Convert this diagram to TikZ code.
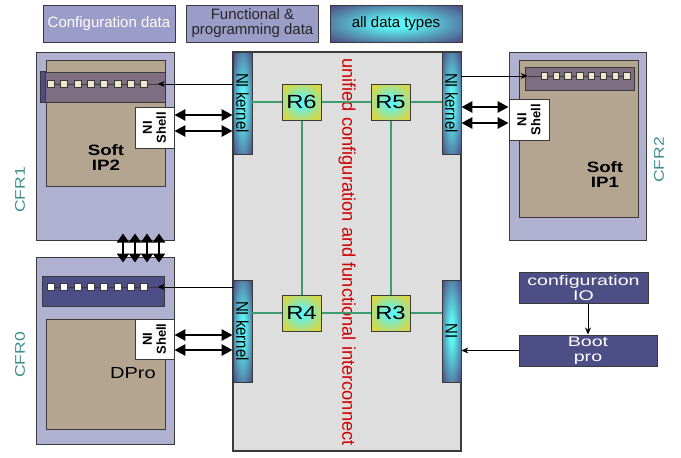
\documentclass[tikz,border=0pt]{standalone}
\usepackage{fontspec}
\setmainfont{Liberation Sans}
\newfontfamily\widesf[FakeStretch=1.25]{Liberation Sans}
\newfontfamily\widersf[FakeStretch=1.4]{Liberation Sans}
\newfontfamily\narrowsf[FakeStretch=0.88]{Liberation Sans}
\usetikzlibrary{arrows.meta}

\definecolor{edge}{HTML}{3A3A3A}
\definecolor{navy}{HTML}{4E4E86}
\definecolor{glowcyan}{HTML}{5CF4F4}
\definecolor{routeryellow}{HTML}{D6D646}
\definecolor{lavtop}{HTML}{9C9CC8}
\definecolor{cfrfill}{HTML}{B0B0D0}
\definecolor{tan}{HTML}{B4A591}
\definecolor{stripmauve}{HTML}{7D6E82}
\definecolor{cream}{HTML}{F0E6D0}
\definecolor{panel}{HTML}{DEDEDE}
\definecolor{linkgreen}{HTML}{3C9C70}
\definecolor{ired}{HTML}{D00000}
\definecolor{teal}{HTML}{3E8E8E}

% glow shadings: light centre fading to the edge colour
\pgfdeclareradialshading{niglow}{\pgfpointorigin}{color(0bp)=(glowcyan); color(6bp)=(glowcyan); color(34bp)=(navy); color(50bp)=(navy)}
\pgfdeclareradialshading{routerglow}{\pgfpointorigin}{color(0bp)=(glowcyan); color(5bp)=(glowcyan); color(29bp)=(routeryellow); color(50bp)=(routeryellow)}

\tikzset{
  topbox/.style={draw=edge, line width=1pt, fill=lavtop, minimum width=132, minimum height=37,
    inner sep=0, align=center, font=\fontsize{15}{15}\selectfont},
  cfrbox/.style={draw=edge, line width=1pt, fill=cfrfill, inner sep=0},
  ipbox/.style={draw=edge, line width=1pt, fill=tan, inner sep=0},
  stripbox/.style={draw=edge, line width=0.8pt, inner sep=0},
  sqr/.style={draw=edge, line width=0.6pt, minimum size=7, inner sep=0},
  chain/.style={draw=edge, line width=0.6pt},
  nibar/.style={draw=edge, line width=0.8pt, shade, shading=niglow, minimum width=19,
    minimum height=102, inner sep=0},
  nitext/.style={rotate=-90, font=\narrowsf\fontsize{17}{17}\selectfont, text=black},
  router/.style={draw=edge, line width=1pt, shade, shading=routerglow, minimum width=39,
    minimum height=36, inner sep=0, font=\widesf\fontsize{19}{19}\selectfont},
  link/.style={draw=linkgreen, line width=2pt},
  shellbox/.style={draw=edge, line width=0.8pt, fill=white, inner sep=0},
  shelltext/.style={rotate=90, align=center, font=\bfseries\fontsize{13}{14}\selectfont},
  dbl/.style={line width=2.6pt, {Triangle[length=11pt,width=11pt]}-{Triangle[length=11pt,width=11pt]}},
  vdbl/.style={line width=2.4pt, {Triangle[length=9pt,width=12pt]}-{Triangle[length=9pt,width=12pt]}},
  thinarrow/.style={draw=black, line width=0.8pt, -{Stealth[length=7pt,width=6pt]}},
  iplabel/.style={align=center, font=\widesf\bfseries\fontsize{15}{15}\selectfont},
  navybox/.style={draw=edge, line width=1pt, fill=navy, text=white, inner sep=0, align=center,
    font=\widersf\fontsize{14}{15}\selectfont},
  cfrlabel/.style={rotate=90, text=teal, font=\widesf\fontsize{14}{14}\selectfont},
}

\begin{document}
\begin{tikzpicture}[x=1pt,y=-1pt]
\useasboundingbox (0,0) rectangle (681,458);
\fill[white] (0,0) rectangle (681,458);

% legend boxes
\node[topbox, text=white] (cfgdata) at (109,23.5) {Configuration data};
\node[topbox, text=black!85] (fundata) at (252.5,23.5) {Functional \&\\programming data};
\node[topbox, shade, shading=niglow, text=black] (alldata) at (396,23.5) {all data types};

% interconnect panel
\node[draw=edge, line width=1.2pt, fill=panel, minimum width=228, minimum height=399, inner sep=0] (noc) at (347,251.5) {};
\node[text=ired, rotate=-90, font=\fontsize{18.3}{18}\selectfont] (noclbl) at (347,252) {unified configuration and functional interconnect};

% network interface bars
\node[nibar] (kL1) at (242.5,103) {};
\node[nibar] (kL0) at (242.5,331) {};
\node[nibar] (kR2) at (451.5,103) {};
\node[nibar] (kR3) at (451.5,331) {};
\node[nitext] (kL1t) at (kL1) {NI kernel};
\node[nitext] (kL0t) at (kL0) {NI kernel};
\node[nitext] (kR2t) at (kR2) {NI kernel};
\node[nitext] (kR3t) at (kR3) {NI};

% routers
\node[router] (R6) at (301.5,102) {R6};
\node[router] (R5) at (390.5,102) {R5};
\node[router] (R4) at (301.5,313) {R4};
\node[router] (R3) at (390.5,313) {R3};
\draw[link] (kL1.east |- R6) -- (R6);
\draw[link] (R6) -- (R5);
\draw[link] (R5) -- (kR2.west |- R5);
\draw[link] (kL0.east |- R4) -- (R4);
\draw[link] (R4) -- (R3);
\draw[link] (R3) -- (kR3.west |- R3);
\draw[link] (R6) -- (R4);
\draw[link] (R5) -- (R3);

% CFR1 : Soft IP2
\node[cfrbox, minimum width=138, minimum height=188] (cfr1) at (105,146) {};
\node[ipbox, minimum width=119, minimum height=126] (ip2) at (105.5,123) {};
\node[iplabel] (ip2lbl) at (106,158) {Soft\\IP2};
\node[stripbox, fill=stripmauve, minimum width=124, minimum height=30] (strip1) at (103,87) {};
\filldraw[fill=navy, draw=edge, line width=0.8pt] (strip1.north west) rectangle (ip2.west |- strip1.south);
\foreach \i in {1,...,8} \node[sqr, fill=cream] (a\i) at ({50.8+13.3*(\i-1)},84) {};
\foreach \i/\j in {1/2,2/3,3/4,4/5,5/6,6/7,7/8} \draw[chain] (a\i.east) -- (a\j.west);
\draw[thinarrow] (kL1.west |- a8) -- ([xshift=10pt]a8.east);
\draw[chain] ([xshift=10pt]a8.east) -- (a8.east);
\node[shellbox, minimum width=39, minimum height=41] (sh1) at (154.5,127.5) {};
\node[shelltext] (sh1t) at (sh1) {NI\\Shell};
\draw[dbl] ([yshift=12.5pt]sh1.east) -- ([yshift=12.5pt]kL1.west |- sh1.east);
\draw[dbl] ([yshift=-3.5pt]sh1.east) -- ([yshift=-3.5pt]kL1.west |- sh1.east);
\node[cfrlabel] (cfr1lbl) at (20,190) {CFR1};

% CFR0 : DPro
\node[cfrbox, minimum width=138, minimum height=187] (cfr0) at (105,350.5) {};
\node[stripbox, fill=navy, minimum width=122, minimum height=30] (strip0) at (103,291) {};
\foreach \i in {1,...,8} \node[sqr, fill=white] (b\i) at ({50.8+13.3*(\i-1)},287) {};
\foreach \i/\j in {1/2,2/3,3/4,4/5,5/6,6/7,7/8} \draw[chain] (b\i.east) -- (b\j.west);
\draw[thinarrow] (kL0.west |- b8) -- ([xshift=10pt]b8.east);
\draw[chain] ([xshift=10pt]b8.east) -- (b8.east);
\node[ipbox, minimum width=119, minimum height=110] (dpro) at (105.5,374) {};
\node[font=\widesf\fontsize{16}{16}\selectfont] (dprolbl) at (133,373) {DPro};
\node[shellbox, minimum width=39, minimum height=40] (sh0) at (154.5,339) {};
\node[shelltext] (sh0t) at (sh0) {NI\\Shell};
\draw[dbl] ([yshift=4pt]sh0.east) -- ([yshift=4pt]kL0.west |- sh0.east);
\draw[dbl] ([yshift=-11pt]sh0.east) -- ([yshift=-11pt]kL0.west |- sh0.east);
\node[cfrlabel] (cfr0lbl) at (20,355) {CFR0};

% links between CFR1 and CFR0
\foreach \dx in {18,30,42,54}
  \draw[vdbl] ([xshift=\dx pt, yshift=7pt]cfr1.south) -- ([xshift=\dx pt, yshift=-6pt]cfr0.north);

% CFR2 : Soft IP1
\node[cfrbox, minimum width=137, minimum height=188] (cfr2) at (577.5,146) {};
\node[ipbox, minimum width=119, minimum height=157] (ip1) at (578.5,138.5) {};
\node[iplabel] (ip1lbl) at (605,175) {Soft\\IP1};
\node[stripbox, fill=stripmauve, minimum width=109, minimum height=23] (strip2) at (579.5,78.5) {};
\foreach \i in {1,...,8} \node[sqr, fill=cream, minimum size=6.5] (c\i) at ({544.25+11.8*(\i-1)},76) {};
\foreach \i/\j in {1/2,2/3,3/4,4/5,5/6,6/7,7/8} \draw[chain] (c\i.east) -- (c\j.west);
\draw[thinarrow] (kR2.east |- c1) -- ([xshift=-13pt]c1.west);
\draw[chain] ([xshift=-13pt]c1.west) -- (c1.west);
\node[shellbox, minimum width=40, minimum height=41] (sh2) at (529,119.5) {};
\node[shelltext] (sh2t) at (sh2) {NI\\Shell};
\draw[dbl] ([yshift=12.5pt]kR2.east |- sh2.west) -- ([yshift=12.5pt]sh2.west);
\draw[dbl] ([yshift=-3.5pt]kR2.east |- sh2.west) -- ([yshift=-3.5pt]sh2.west);
\node[cfrlabel] (cfr2lbl) at (659,160) {CFR2};

% configuration path
\node[navybox, minimum width=129, minimum height=31] (cfgio) at (583.5,287.5) {configuration\\IO};
\node[navybox, minimum width=138, minimum height=31] (boot) at (588,350.5) {Boot\\pro};
\draw[thinarrow] (boot.north |- cfgio.south) -- (boot.north);
\draw[thinarrow] (boot.west) -- (kR3.east |- boot.west);
\end{tikzpicture}
\end{document}
